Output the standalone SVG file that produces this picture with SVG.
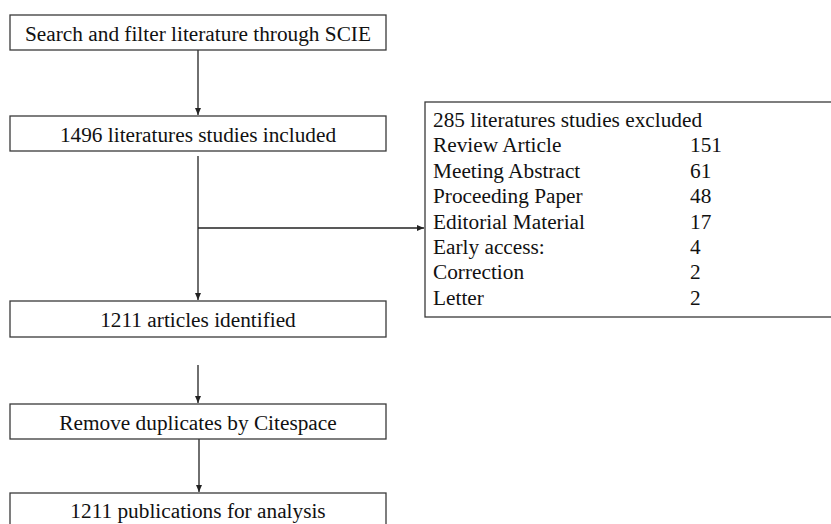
<svg xmlns="http://www.w3.org/2000/svg" width="831" height="524" viewBox="0 0 831 524">
<style>
.box{fill:#fff;stroke:#3a3a3a;stroke-width:1.3}
.t{font-family:"Liberation Serif","Times New Roman",serif;font-size:21.3px;fill:#111}
.c{text-anchor:middle}
.ln{stroke:#222;stroke-width:1.3;fill:none}
</style>
<defs>
<marker id="ah" markerWidth="8" markerHeight="8" refX="7" refY="4" orient="auto" markerUnits="userSpaceOnUse">
<path d="M0,1 L7,4 L0,7 Z" fill="#222"/>
</marker>
</defs>
<rect width="831" height="524" fill="#fff"/>
<g id="connectors">
<line class="ln" x1="198" y1="50" x2="198" y2="115" marker-end="url(#ah)"/>
<line class="ln" x1="198" y1="156" x2="198" y2="300" marker-end="url(#ah)"/>
<line class="ln" x1="198" y1="228" x2="424" y2="228" marker-end="url(#ah)"/>
<line class="ln" x1="198" y1="365" x2="198" y2="403" marker-end="url(#ah)"/>
<line class="ln" x1="199" y1="439" x2="199" y2="492" marker-end="url(#ah)"/>
</g>
<g id="n1"><rect class="box" x="10" y="15" width="376" height="35"/><text class="t c" x="198" y="41">Search and filter literature through SCIE</text></g>
<g id="n2"><rect class="box" x="10" y="116" width="376" height="35"/><text class="t c" x="198" y="142">1496 literatures studies included</text></g>
<g id="n3"><rect class="box" x="10" y="301" width="376" height="36"/><text class="t c" x="198" y="327">1211 articles identified</text></g>
<g id="n4"><rect class="box" x="10" y="404" width="376" height="35"/><text class="t c" x="198" y="430">Remove duplicates by Citespace</text></g>
<g id="n5"><rect class="box" x="10" y="493" width="376" height="40"/><text class="t c" x="198" y="518">1211 publications for analysis</text></g>
<g id="n6">
<rect class="box" x="425" y="102" width="410" height="215"/>
<text class="t" x="433" y="127">285 literatures studies excluded</text>
<text class="t" x="433" y="152.4">Review Article</text><text class="t" x="690" y="152.4">151</text>
<text class="t" x="433" y="177.8">Meeting Abstract</text><text class="t" x="690" y="177.8">61</text>
<text class="t" x="433" y="203.2">Proceeding Paper</text><text class="t" x="690" y="203.2">48</text>
<text class="t" x="433" y="228.6">Editorial Material</text><text class="t" x="690" y="228.6">17</text>
<text class="t" x="433" y="254">Early access:</text><text class="t" x="690" y="254">4</text>
<text class="t" x="433" y="279.4">Correction</text><text class="t" x="690" y="279.4">2</text>
<text class="t" x="433" y="304.8">Letter</text><text class="t" x="690" y="304.8">2</text>
</g>
</svg>
